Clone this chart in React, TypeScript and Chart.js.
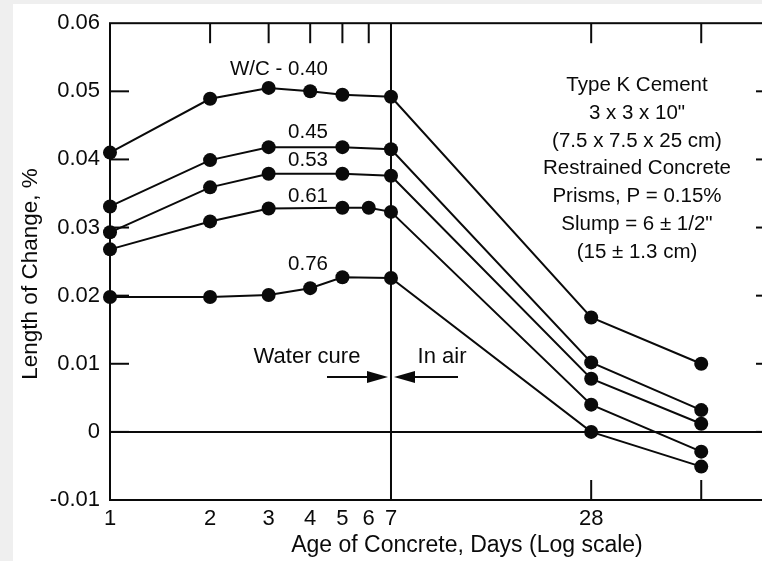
import React, { useEffect, useRef } from "react";
import { Chart, registerables } from "chart.js";

Chart.register(...registerables);

const FONT = "'Liberation Sans', Arial, Helvetica, sans-serif";
const INK = "#0a0a0a";

// Axis ticks
const xTickValues = [1, 2, 3, 4, 5, 6, 7, 28];
const yTickValues = [-0.01, 0, 0.01, 0.02, 0.03, 0.04, 0.05, 0.06];
const topTickDays = [2, 3, 4, 5, 6, 28, 60];
const bottomTickDays = [28, 60];

// Series (age in days, length change in %)
const days040 = [1, 2, 3, 4, 5, 7, 28, 60];
const vals040 = [0.041, 0.0489, 0.0505, 0.05, 0.0495, 0.0492, 0.0168, 0.01];
const days045 = [1, 2, 3, 5, 7, 28, 60];
const vals045 = [0.0331, 0.0399, 0.0418, 0.0418, 0.0415, 0.0102, 0.0032];
const days053 = [1, 2, 3, 5, 7, 28, 60];
const vals053 = [0.0293, 0.0359, 0.0379, 0.0379, 0.0376, 0.0078, 0.0012];
const days061 = [1, 2, 3, 5, 6, 7, 28, 60];
const vals061 = [0.0268, 0.0309, 0.0328, 0.0329, 0.0329, 0.0323, 0.004, -0.0029];
const days076 = [1, 2, 3, 4, 5, 7, 28, 60];
const vals076 = [0.0198, 0.0198, 0.0201, 0.0211, 0.0227, 0.0226, 0.0, -0.0051];

const seriesLabels = ["W/C - 0.40", "0.45", "0.53", "0.61", "0.76"];
const seriesDays = [days040, days045, days053, days061, days076];
const seriesVals = [vals040, vals045, vals053, vals061, vals076];

const infoLines = [
  "Type K Cement",
  '3 x 3 x 10"',
  "(7.5 x 7.5 x 25 cm)",
  "Restrained Concrete",
  "Prisms, P = 0.15%",
  'Slump = 6 ± 1/2"',
  "(15 ± 1.3 cm)",
];

const xTitle = "Age of Concrete, Days (Log scale)";
const yTitle = "Length of Change, %";
const waterLabel = "Water cure";
const airLabel = "In air";

// Series label placement (pixel centre x, baseline y)
const seriesLabelPos = [
  [279, 75],
  [308, 138],
  [308, 166],
  [308, 202],
  [308, 270],
];

const decorPlugin = {
  id: "decor",
  beforeDraw(chart: any) {
    const ctx = chart.ctx;
    ctx.save();
    ctx.fillStyle = "#efefef";
    ctx.fillRect(0, 0, chart.width, chart.height);
    ctx.fillStyle = "#ffffff";
    ctx.fillRect(13, 4, chart.width - 13, chart.height - 4);
    ctx.restore();
  },
  beforeDatasetsDraw(chart: any) {
    const { ctx, chartArea: a, scales } = chart;
    const x = scales.x;
    const y = scales.y;
    const line = (x1: number, y1: number, x2: number, y2: number) => {
      ctx.beginPath();
      ctx.moveTo(x1, y1);
      ctx.lineTo(x2, y2);
      ctx.stroke();
    };
    ctx.save();
    ctx.strokeStyle = INK;
    ctx.lineWidth = 2;
    ctx.strokeRect(a.left, a.top, a.right - a.left, a.bottom - a.top);
    const y0 = y.getPixelForValue(0);
    line(a.left, y0, a.right, y0);
    const x7 = x.getPixelForValue(7);
    line(x7, a.top, x7, a.bottom);
    // inward ticks
    const TL = 19;
    yTickValues.forEach((v) => {
      const py = y.getPixelForValue(v);
      if (Math.abs(py - a.top) < 2 || Math.abs(py - a.bottom) < 2) return;
      line(a.left, py, a.left + TL, py);
      line(a.right, py, a.right - TL, py);
    });
    topTickDays.forEach((d) => {
      const px = x.getPixelForValue(d);
      line(px, a.top, px, a.top + TL + 1);
    });
    bottomTickDays.forEach((d) => {
      const px = x.getPixelForValue(d);
      line(px, a.bottom, px, a.bottom - TL - 1);
    });
    ctx.restore();
  },
  afterDraw(chart: any) {
    const { ctx, scales } = chart;
    const x = scales.x;
    ctx.save();
    ctx.fillStyle = INK;
    ctx.strokeStyle = INK;
    ctx.textAlign = "center";
    ctx.textBaseline = "alphabetic";

    ctx.font = `20.5px ${FONT}`;
    seriesLabels.forEach((t, i) => {
      const [px, py] = seriesLabelPos[i];
      ctx.fillText(t, px, py);
    });

    ctx.font = `20.5px ${FONT}`;
    infoLines.forEach((t, i) => {
      ctx.fillText(t, 637, 91 + i * 27.8);
    });

    // Water cure / In air
    ctx.font = `22px ${FONT}`;
    ctx.fillText(waterLabel, 307, 363);
    ctx.fillText(airLabel, 442, 363);

    const x7 = x.getPixelForValue(7);
    const ay = 377;
    ctx.lineWidth = 2;
    ctx.beginPath();
    ctx.moveTo(x7 - 64, ay);
    ctx.lineTo(x7 - 20, ay);
    ctx.stroke();
    ctx.beginPath();
    ctx.moveTo(x7 - 3, ay);
    ctx.lineTo(x7 - 24, ay - 6);
    ctx.lineTo(x7 - 24, ay + 6);
    ctx.closePath();
    ctx.fill();
    ctx.beginPath();
    ctx.moveTo(x7 + 20, ay);
    ctx.lineTo(x7 + 67, ay);
    ctx.stroke();
    ctx.beginPath();
    ctx.moveTo(x7 + 3, ay);
    ctx.lineTo(x7 + 24, ay - 6);
    ctx.lineTo(x7 + 24, ay + 6);
    ctx.closePath();
    ctx.fill();

    // axis titles
    ctx.font = `23px ${FONT}`;
    ctx.fillText(xTitle, 467, 552);
    ctx.save();
    ctx.translate(37, 274);
    ctx.rotate(-Math.PI / 2);
    ctx.font = `22.5px ${FONT}`;
    ctx.fillText(yTitle, 0, 0);
    ctx.restore();

    ctx.restore();
  },
};

export default function App() {
  const ref = useRef<HTMLCanvasElement | null>(null);

  useEffect(() => {
    if (!ref.current) return;
    const datasets = seriesLabels.map((label, i) => ({
      label,
      data: seriesDays[i].map((d, j) => ({ x: d, y: seriesVals[i][j] })),
      borderColor: INK,
      backgroundColor: INK,
      borderWidth: 2,
      pointRadius: 7,
      pointBorderWidth: 0,
      pointBackgroundColor: INK,
      tension: 0,
      clip: false as any,
    }));
    const chart = new Chart(ref.current, {
      type: "line",
      data: { datasets },
      options: {
        animation: false,
        responsive: false,
        devicePixelRatio: 1,
        layout: { padding: { top: 20, right: 15, left: 0, bottom: 0 } },
        plugins: {
          legend: { display: false },
          tooltip: { enabled: false },
          title: { display: false },
        },
        scales: {
          x: {
            type: "logarithmic",
            min: 1,
            max: 100,
            grid: { display: false, drawTicks: false },
            border: { display: false },
            afterBuildTicks: (scale: any) => {
              scale.ticks = xTickValues.map((v) => ({ value: v }));
            },
            afterFit: (scale: any) => {
              scale.height = 61;
            },
            ticks: {
              autoSkip: false,
              maxRotation: 0,
              padding: 6,
              color: INK,
              font: { family: FONT, size: 22 },
              callback: (v: any) => String(v),
            },
          },
          y: {
            type: "linear",
            min: -0.01,
            max: 0.06,
            grid: { display: false, drawTicks: false },
            border: { display: false },
            afterBuildTicks: (scale: any) => {
              scale.ticks = yTickValues.map((v) => ({ value: v }));
            },
            afterFit: (scale: any) => {
              scale.width = 110;
            },
            ticks: {
              padding: 10,
              color: INK,
              font: { family: FONT, size: 22 },
              callback: (v: any) => {
                const n = Number(v);
                if (Math.abs(n) < 1e-9) return "0";
                return n.toFixed(2);
              },
            },
          },
        },
      },
      plugins: [decorPlugin],
    } as any);
    return () => chart.destroy();
  }, []);

  return (
    <div
      style={{
        position: "fixed",
        left: 0,
        top: 0,
        width: 762,
        height: 561,
        overflow: "hidden",
        background: "#efefef",
      }}
    >
      <canvas ref={ref} width={790} height={561} style={{ display: "block" }} />
    </div>
  );
}
